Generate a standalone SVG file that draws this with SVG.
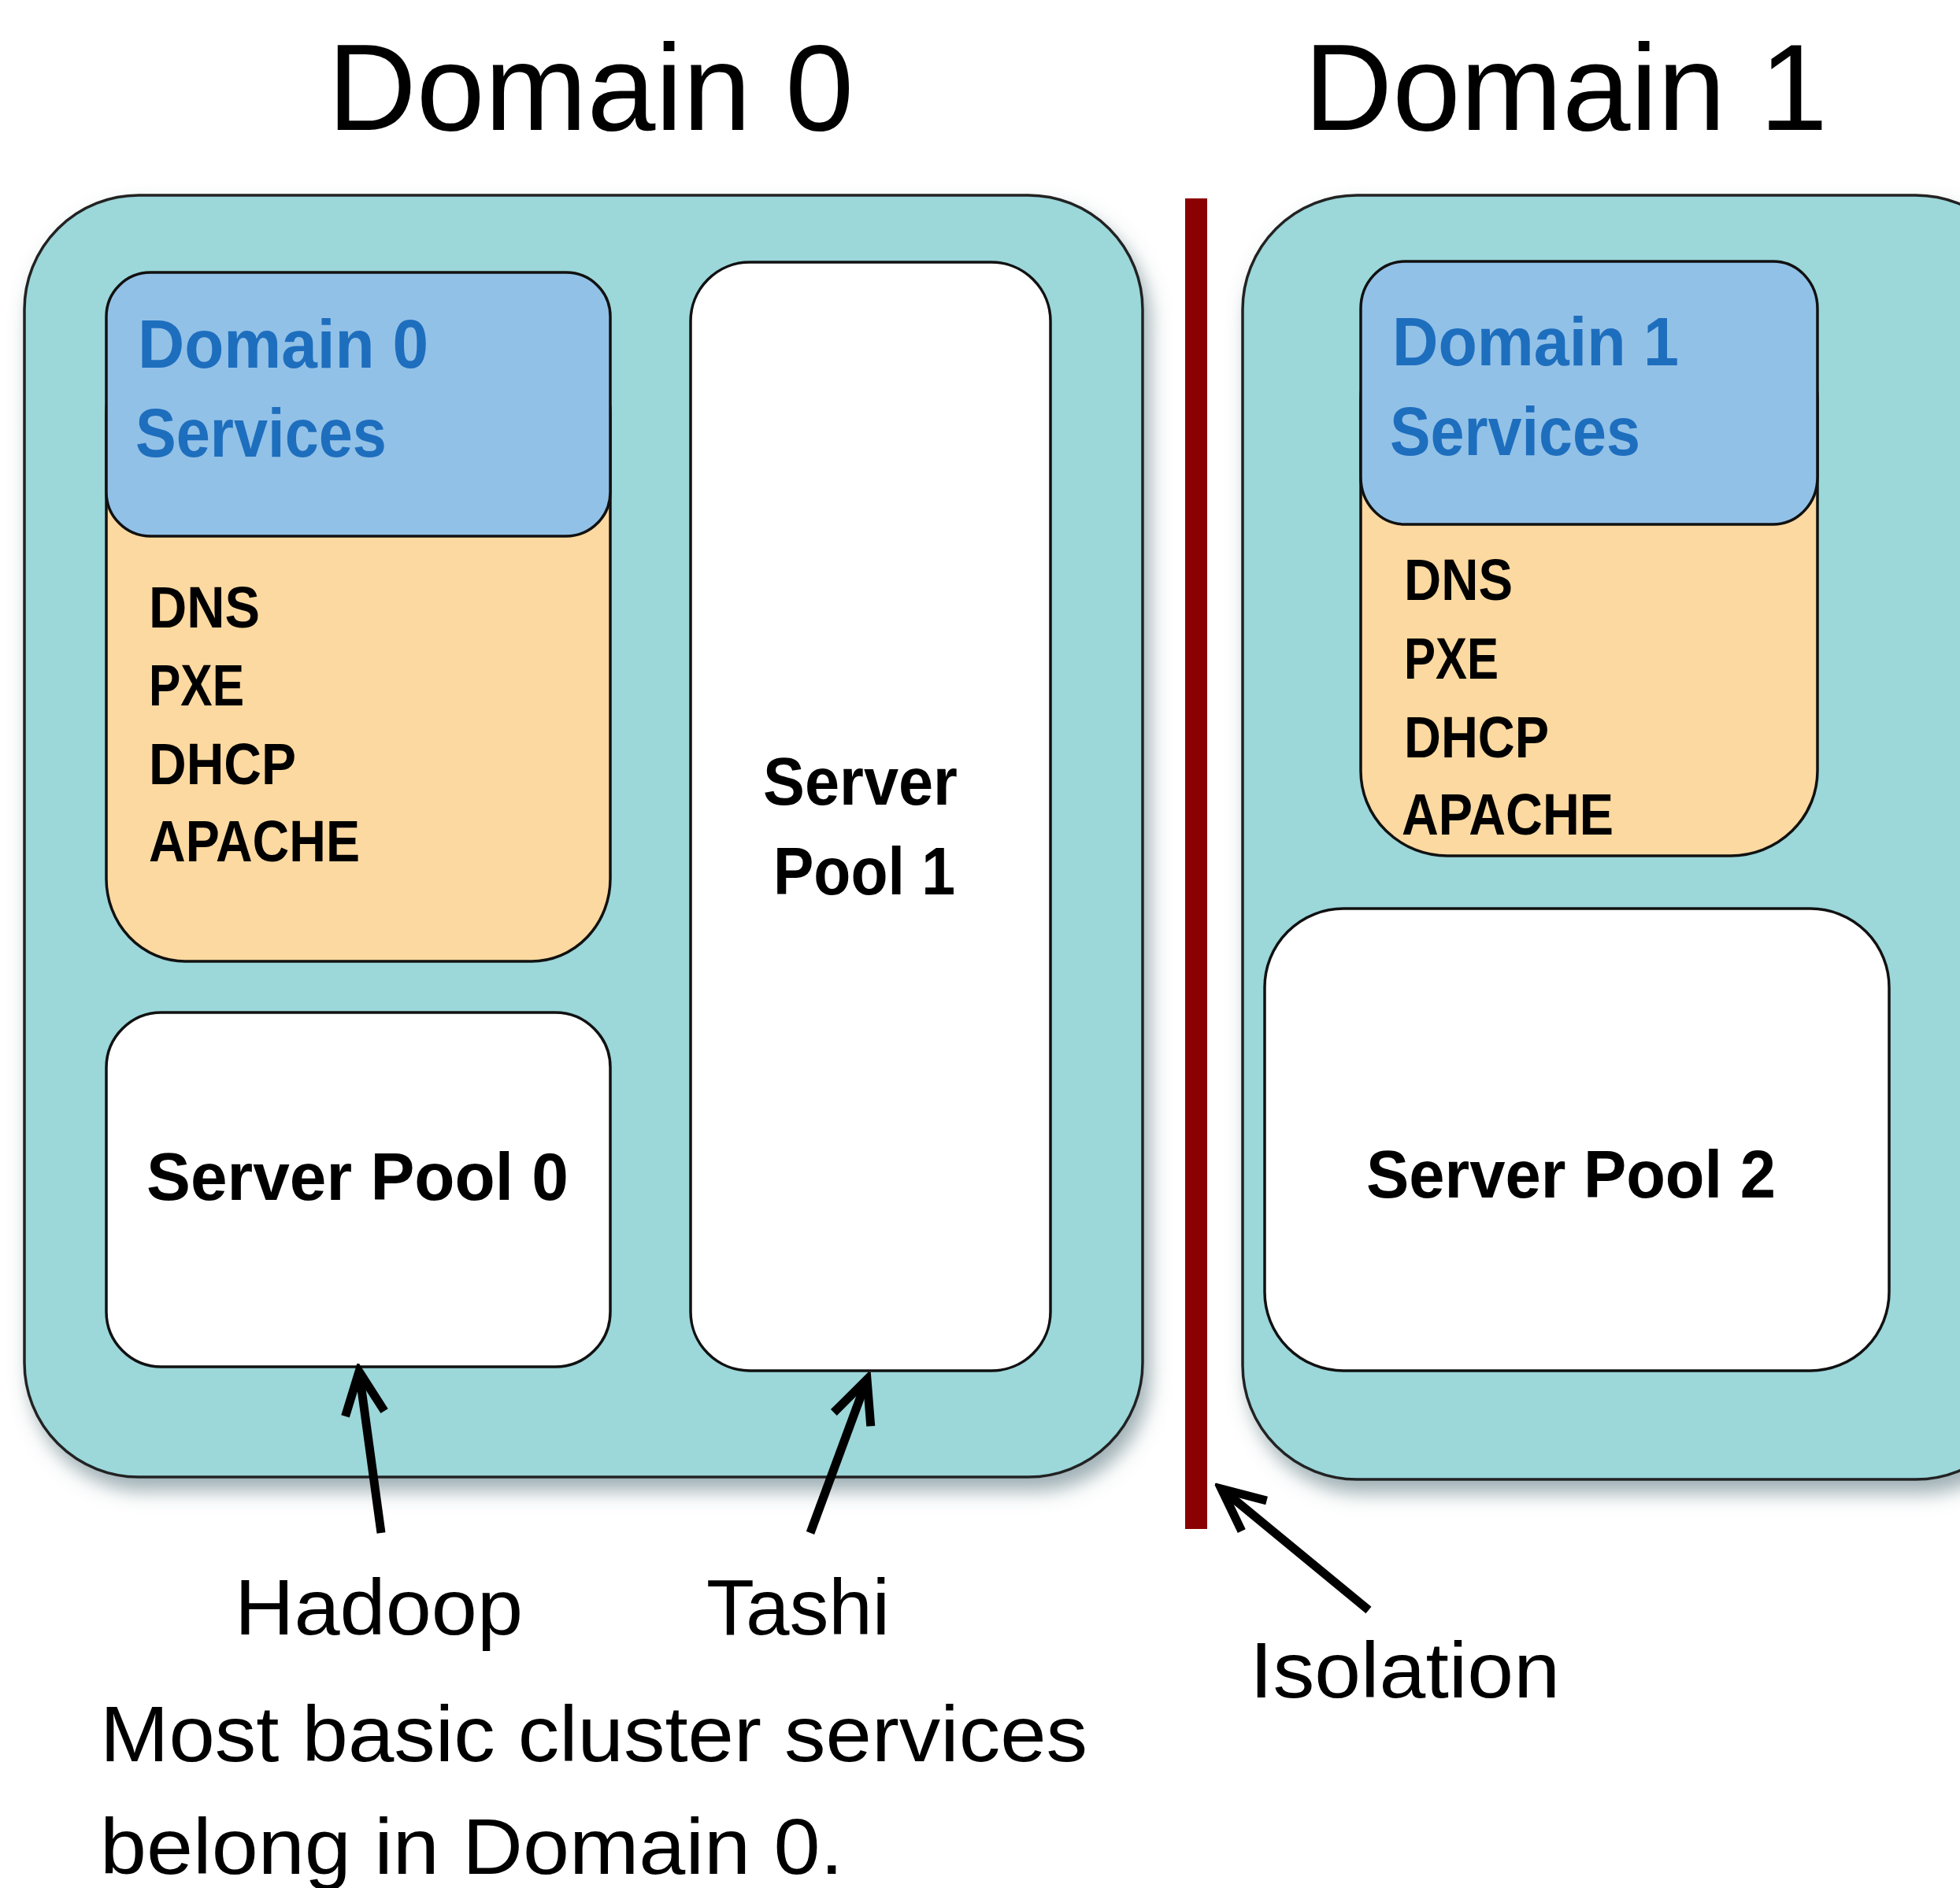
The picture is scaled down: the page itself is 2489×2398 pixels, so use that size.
<svg xmlns="http://www.w3.org/2000/svg" width="2489" height="2398" viewBox="0 0 2489 2398">
<style>
.outer{fill:#9CD7DA;stroke:#222;stroke-width:3.5}
.blue{fill:#92C1E7;stroke:#111;stroke-width:3.5}
.orange{fill:#FCD9A0;stroke:#111;stroke-width:3.5}
.pool{fill:#FFFFFF;stroke:#111;stroke-width:3.5}
.title{font-family:"Liberation Sans",Arial,sans-serif;font-size:156px;fill:#000}
.bt{font-family:"Liberation Sans",Arial,sans-serif;font-weight:bold;font-size:88px;fill:#1E6EBE}
.svc{font-family:"Liberation Sans",Arial,sans-serif;font-weight:bold;font-size:75px;fill:#000}
.pt{font-family:"Liberation Sans",Arial,sans-serif;font-weight:bold;font-size:86px;fill:#000}
.lbl{font-family:"Liberation Sans",Arial,sans-serif;font-size:101px;fill:#000}
.arrow{stroke:#000;stroke-width:11;fill:none;marker-end:url(#head)}
</style>
<defs>
<filter id="shadow" x="-10%" y="-10%" width="130%" height="130%">
<feDropShadow dx="8" dy="16" stdDeviation="12" flood-color="#506e78" flood-opacity="0.55"/>
</filter>
<marker id="head" markerUnits="userSpaceOnUse" markerWidth="80" markerHeight="80" viewBox="-70 -40 80 80" refX="0" refY="0" orient="auto">
<path d="M -54,-25 L 0,0 L -54,25" fill="none" stroke="#000" stroke-width="11" stroke-linejoin="miter"/>
</marker>
</defs>
<rect width="2489" height="2398" fill="#FFFFFF"/>

<text class="title" x="416" y="165" textLength="668" lengthAdjust="spacingAndGlyphs">Domain 0</text>
<text class="title" x="1656" y="165" textLength="665" lengthAdjust="spacingAndGlyphs">Domain 1</text>

<g id="domain0">
<rect class="outer" x="31" y="248" width="1420" height="1628" rx="145" ry="145" filter="url(#shadow)"/>
</g>
<g id="domain1">
<rect class="outer" x="1578" y="248" width="1000" height="1631" rx="145" ry="145" filter="url(#shadow)"/>
</g>

<g id="isolation-line">
<rect x="1505" y="252" width="28" height="1690" fill="#8B0000"/>
</g>

<g id="services0">
<rect class="orange" x="135" y="420" width="640" height="801" rx="100" ry="105"/>
<rect class="blue" x="135" y="346" width="640" height="335" rx="56" ry="56"/>
<text class="bt" x="175" y="467" textLength="369" lengthAdjust="spacingAndGlyphs">Domain 0</text>
<text class="bt" x="172" y="580" textLength="319" lengthAdjust="spacingAndGlyphs">Services</text>
<text class="svc" x="189" y="797" textLength="141" lengthAdjust="spacingAndGlyphs">DNS</text>
<text class="svc" x="189" y="896" textLength="121" lengthAdjust="spacingAndGlyphs">PXE</text>
<text class="svc" x="189" y="996" textLength="187" lengthAdjust="spacingAndGlyphs">DHCP</text>
<text class="svc" x="189" y="1094" textLength="268" lengthAdjust="spacingAndGlyphs">APACHE</text>
</g>

<g id="pool1">
<rect class="pool" x="877" y="333" width="457" height="1408" rx="75" ry="75"/>
<text class="pt" x="969" y="1022" textLength="247" lengthAdjust="spacingAndGlyphs">Server</text>
<text class="pt" x="982" y="1136" textLength="231" lengthAdjust="spacingAndGlyphs">Pool 1</text>
</g>

<g id="pool0">
<rect class="pool" x="135" y="1286" width="640" height="450" rx="70" ry="70"/>
<text class="pt" x="186" y="1524" textLength="536" lengthAdjust="spacingAndGlyphs">Server Pool 0</text>
</g>

<g id="services1">
<rect class="orange" x="1728" y="400" width="580" height="687" rx="110" ry="108"/>
<rect class="blue" x="1728" y="332" width="580" height="334" rx="56" ry="60"/>
<text class="bt" x="1768" y="464" textLength="364" lengthAdjust="spacingAndGlyphs">Domain 1</text>
<text class="bt" x="1765" y="578" textLength="318" lengthAdjust="spacingAndGlyphs">Services</text>
<text class="svc" x="1783" y="762" textLength="138" lengthAdjust="spacingAndGlyphs">DNS</text>
<text class="svc" x="1783" y="862" textLength="120" lengthAdjust="spacingAndGlyphs">PXE</text>
<text class="svc" x="1783" y="962" textLength="184" lengthAdjust="spacingAndGlyphs">DHCP</text>
<text class="svc" x="1780" y="1060" textLength="269" lengthAdjust="spacingAndGlyphs">APACHE</text>
</g>

<g id="pool2">
<rect class="pool" x="1606" y="1154" width="793" height="587" rx="100" ry="100"/>
<text class="pt" x="1735" y="1521" textLength="520" lengthAdjust="spacingAndGlyphs">Server Pool 2</text>
</g>

<g id="connectors">
<line class="arrow" x1="484" y1="1947" x2="456" y2="1742"/>
<line class="arrow" x1="1029" y1="1947" x2="1101" y2="1752"/>
<line class="arrow" x1="1738" y1="2045" x2="1551" y2="1891"/>
</g>

<g id="labels">
<text class="lbl" x="298" y="2076" textLength="366" lengthAdjust="spacingAndGlyphs">Hadoop</text>
<text class="lbl" x="897" y="2076" textLength="233" lengthAdjust="spacingAndGlyphs">Tashi</text>
<text class="lbl" x="1587" y="2156" textLength="394" lengthAdjust="spacingAndGlyphs">Isolation</text>
<text class="lbl" x="127" y="2237" textLength="1254" lengthAdjust="spacingAndGlyphs">Most basic cluster services</text>
<text class="lbl" x="127" y="2380" textLength="944" lengthAdjust="spacingAndGlyphs">belong in Domain 0.</text>
</g>
</svg>
